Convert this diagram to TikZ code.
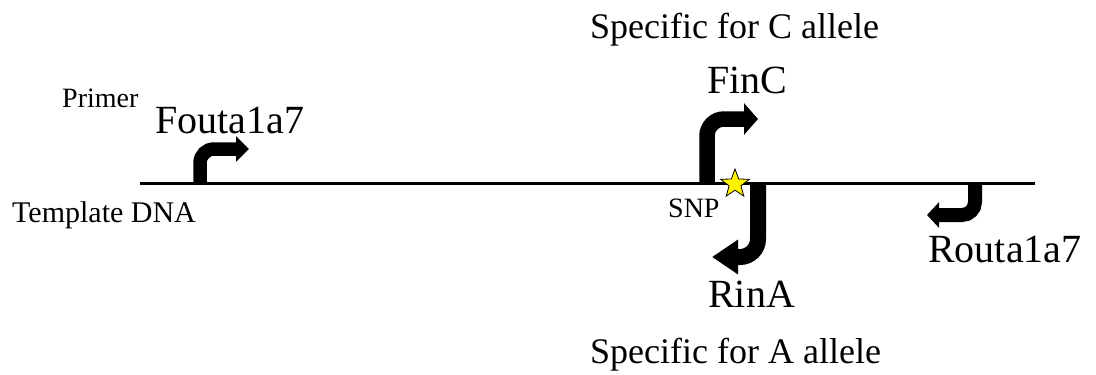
\documentclass[tikz,border=0pt]{standalone}
\usepackage{fontspec}
\setmainfont{Liberation Serif}
\usetikzlibrary{arrows.meta,shapes.geometric}
\begin{document}
\begin{tikzpicture}[x=1pt,y=-1pt,
  lbl/.style={anchor=base west,inner sep=0pt,font=\fontsize{40}{48}\selectfont},
  spec/.style={anchor=base west,inner sep=0pt,font=\fontsize{36}{43}\selectfont},
  small/.style={anchor=base west,inner sep=0pt,font=\fontsize{28}{34}\selectfont},
  primerarrow/.style={draw=black,line cap=butt}
]
\useasboundingbox (0,0) rectangle (1096,375);
% template DNA line
\coordinate (L) at (140,183.5);
\coordinate (R) at (1035,183.5);
\draw[line width=3pt] (L) -- (R);
% Fouta1a7 primer
\coordinate (f0) at (200,183);
\coordinate (f1) at (200,149);
\coordinate (f2) at (249,149);
\draw[primerarrow,line width=13.5pt,rounded corners=14pt,-{Triangle[length=13pt,width=25pt]}] (f0) -- (f1) -- (f2);
% FinC primer
\coordinate (c0) at (707,183);
\coordinate (c1) at (707,119);
\coordinate (c2) at (758,119);
\draw[primerarrow,line width=15.5pt,rounded corners=17pt,-{Triangle[length=14pt,width=31pt]}] (c0) -- (c1) -- (c2);
% RinA primer
\coordinate (a0) at (758,183);
\coordinate (a1) at (758,257);
\coordinate (a2) at (712,257);
\draw[primerarrow,line width=16pt,rounded corners=18pt,-{Triangle[length=26pt,width=33pt]}] (a0) -- (a1) -- (a2);
% Routa1a7 primer
\coordinate (r0) at (975,183);
\coordinate (r1) at (975,215);
\coordinate (r2) at (927,215);
\draw[primerarrow,line width=14pt,rounded corners=13pt,-{Triangle[length=12pt,width=25pt]}] (r0) -- (r1) -- (r2);
% SNP star
\node[star,star points=5,star point ratio=2.4,minimum size=30pt,inner sep=0pt,fill=yellow,draw=black,line width=0.8pt] (snp) at (735,184) {};
% texts
\node[spec] (specC) at (590,38) {Specific for C allele};
\node[lbl] (finc) at (707,93) {FinC};
\node[small] (primer) at (62,107) {Primer};
\node[lbl] (fout) at (155,133) {Fouta1a7};
\node[anchor=base west,inner sep=0pt,font=\fontsize{30}{36}\selectfont] (tmpl) at (12,222) {Template DNA};
\node[small] (snplbl) at (668,217) {SNP};
\node[lbl] (rina) at (708,307) {RinA};
\node[lbl] (rout) at (928,262) {Routa1a7};
\node[spec] (specA) at (590,363) {Specific for A allele};
\end{tikzpicture}
\end{document}
